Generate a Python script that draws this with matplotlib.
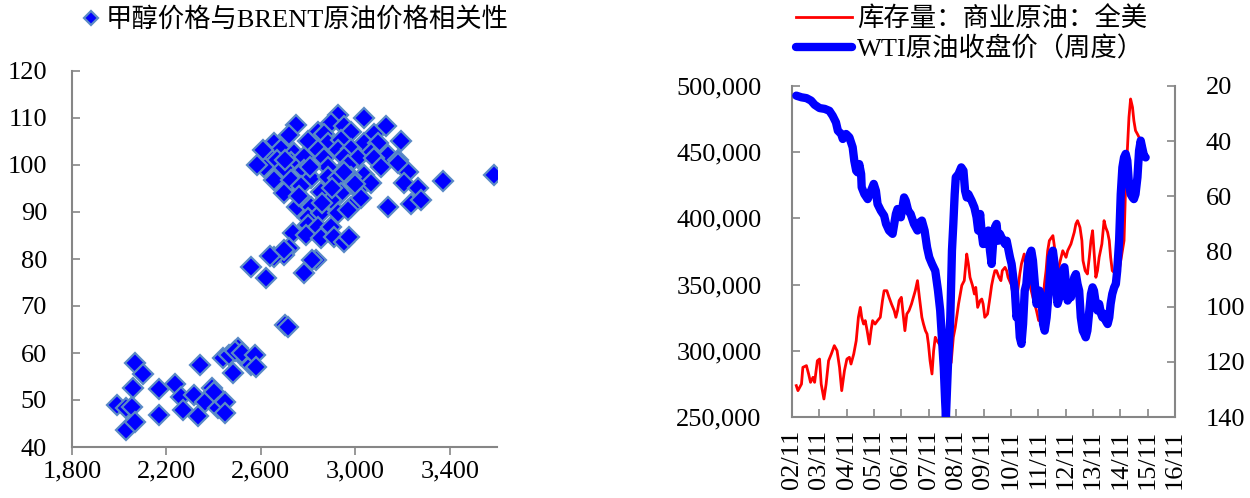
import matplotlib
matplotlib.use('Agg')
import matplotlib.pyplot as plt
from matplotlib.ticker import FuncFormatter

FONT = ['Liberation Serif', 'Noto Sans CJK SC']
plt.rcParams['font.family'] = FONT
plt.rcParams['font.size'] = 19
plt.rcParams['axes.unicode_minus'] = False

# ---- scatter: methanol price (x) vs Brent crude price (y) ----
methanol = [1990, 2030, 2053, 2030, 2065, 2057, 2065, 2100, 2170, 2170,
            2235, 2260, 2272, 2315, 2335, 2340, 2365, 2395, 2402, 2418,
            2448, 2448, 2440, 2465, 2480, 2503, 2515, 2490, 2520, 2560,
            2575, 2580, 2700, 2715,
            2925, 3038, 2897, 2748, 3130, 2953, 2840, 2720, 2868, 2982,
            3081, 3194, 2656, 2798, 2883, 2939, 3038, 2621, 2684, 2741,
            2840, 2925, 2982, 3095, 3067, 3137, 2670, 2727, 2784, 2868,
            2953, 3010, 3081, 3180, 2614, 2699, 2784, 2883, 2968, 3109,
            3222, 3180, 2656, 2727, 2812, 2883, 2925, 3038, 2982, 3208,
            3265, 3371, 3586, 2699, 2769, 2854, 2939, 3010, 3067, 2755,
            2812, 2897, 2982, 3024, 3137, 3236, 3279, 2798, 2854, 2925,
            2968, 2798, 2840, 2897, 2734, 2791, 2854, 2911, 2953, 2975,
            2720, 2699, 2656, 2833, 2557, 2784, 2621, 2640, 2696, 2817,
            2607, 2585, 2770, 2900, 2810, 2760, 2950, 2700, 2860, 3000]
brent = [48.9, 48.2, 48.6, 43.6, 45.3, 52.6, 57.8, 55.6, 52.4, 46.8,
         53.5, 50.7, 47.8, 51.1, 46.5, 57.4, 49.6, 52.6, 51.8, 48.2,
         49.6, 47.2, 58.9, 59.6, 55.7, 61.0, 59.6, 60.5, 60.0, 57.4,
         59.6, 57.0, 66.0, 65.6,
         110.6, 109.9, 108.9, 108.5, 108.2, 108.2, 107.1, 106.4, 106.7, 107.1,
         106.7, 105.0, 104.6, 105.0, 104.6, 105.3, 104.6, 102.8, 103.5, 102.5,
         103.2, 103.2, 103.5, 104.6, 102.5, 102.1, 101.1, 100.7, 101.8, 101.4,
         101.8, 101.4, 101.4, 101.1, 99.6, 99.3, 98.9, 99.6, 100.0, 99.6,
         98.6, 100.4, 96.8, 96.8, 97.2, 97.5, 97.2, 97.9, 97.5, 96.1,
         95.0, 96.5, 97.9, 94.0, 92.9, 94.3, 94.0, 94.7, 96.1, 91.1,
         91.1, 92.6, 91.1, 92.9, 91.1, 91.8, 92.6, 88.7, 89.7, 89.7,
         90.4, 87.2, 86.9, 86.9, 85.5, 85.1, 84.4, 84.7, 83.7, 84.7,
         82.3, 80.9, 80.5, 79.8, 78.4, 77.0, 75.9, 80.6, 81.9, 79.8,
         103.2, 100.0, 95.5, 95.0, 99.5, 93.5, 98.5, 101.0, 92.0, 96.0]

# ---- US commercial crude inventory (left axis) ----
inv_time = [2002.99, 2003.05, 2003.18, 2003.23, 2003.36, 2003.44, 2003.51, 2003.60, 2003.66, 2003.76,
            2003.84, 2003.90, 2004.00, 2004.08, 2004.17, 2004.27, 2004.38, 2004.48, 2004.57, 2004.65,
            2004.75, 2004.84, 2004.93, 2004.99, 2005.09, 2005.18, 2005.26, 2005.33, 2005.38, 2005.45,
            2005.51, 2005.58, 2005.66, 2005.72, 2005.78, 2005.87, 2005.96, 2006.06, 2006.14, 2006.20,
            2006.30, 2006.38, 2006.47, 2006.57, 2006.63, 2006.69, 2006.75, 2006.83, 2006.91, 2006.96,
            2007.03, 2007.11, 2007.20, 2007.27, 2007.34, 2007.42, 2007.49, 2007.58, 2007.64, 2007.71,
            2007.77, 2007.82, 2007.88, 2007.95, 2008.01, 2008.07, 2008.13, 2008.29, 2008.50, 2008.65,
            2008.73, 2008.80, 2008.92, 2009.04, 2009.13, 2009.22, 2009.28, 2009.34, 2009.43, 2009.50,
            2009.55, 2009.62, 2009.71, 2009.77, 2009.82, 2009.88, 2009.98, 2010.07, 2010.13, 2010.19,
            2010.25, 2010.31, 2010.40, 2010.47, 2010.52, 2010.62, 2010.68, 2010.73, 2010.86, 2010.92,
            2010.98, 2011.10, 2011.16, 2011.22, 2011.32, 2011.40, 2011.53, 2011.64, 2011.77, 2011.85,
            2011.92, 2012.01, 2012.06, 2012.12, 2012.18, 2012.24, 2012.37, 2012.43, 2012.48, 2012.54,
            2012.61, 2012.67, 2012.73, 2012.79, 2012.85, 2012.91, 2013.03, 2013.15, 2013.21, 2013.27,
            2013.36, 2013.43, 2013.47, 2013.55, 2013.63, 2013.70, 2013.76, 2013.82, 2013.87, 2013.94,
            2014.00, 2014.06, 2014.16, 2014.24, 2014.30, 2014.37, 2014.43, 2014.48, 2014.54, 2014.67,
            2014.79, 2014.91, 2014.97, 2015.03, 2015.09, 2015.15, 2015.21, 2015.28, 2015.33, 2015.39,
            2015.46, 2015.52, 2015.58, 2015.70]
inv_value = [273700, 269900, 274900, 287500, 288800, 282500, 276200, 280000, 276200, 292500,
             293800, 274900, 263600, 274900, 292500, 297600, 303900, 300100, 287500, 269900,
             285000, 293800, 295100, 290000, 297600, 307600, 325300, 332800, 325300, 320200,
             322800, 315200, 305100, 315200, 322800, 320200, 322800, 325300, 337900, 345400,
             345400, 340400, 335300, 330300, 325300, 330300, 337900, 340400, 325300, 315200,
             327800, 330300, 335300, 340400, 345400, 353000, 340400, 325300, 320200, 315200,
             312700, 305100, 292500, 282500, 300100, 310200, 307600, 303000, 296000, 291000,
             310200, 317700, 335300, 349400, 353000, 373100, 365600, 355500, 349400, 342900,
             347900, 332800, 337900, 339100, 335300, 325300, 327800, 340400, 349400, 355500,
             360500, 360500, 355500, 353000, 360500, 363000, 360500, 355500, 349400, 340400,
             330300, 347900, 358000, 365600, 373100, 360500, 349400, 340400, 330300, 322800,
             325300, 335300, 350400, 360500, 375600, 383200, 387000, 378100, 365600, 358000,
             365600, 370600, 375600, 373100, 370600, 375600, 380700, 389500, 395800, 398300,
             393200, 383200, 368100, 360500, 358000, 370600, 383200, 390700, 375600, 355500,
             360500, 370600, 380700, 398300, 393200, 389500, 383200, 370600, 360500, 358000,
             360500, 375600, 383200, 426000, 451200, 476300, 490200, 483900, 473800, 466300,
             463700, 461200, 458700, 455000]

# ---- WTI weekly close (right axis, inverted) ----
wti_time = [2002.99, 2003.18, 2003.36, 2003.53, 2003.66, 2003.84, 2004.03, 2004.20, 2004.32, 2004.44,
            2004.51, 2004.63, 2004.69, 2004.81, 2004.93, 2005.05, 2005.11, 2005.18, 2005.23, 2005.29,
            2005.36, 2005.38, 2005.48, 2005.60, 2005.72, 2005.82, 2005.90, 2005.96, 2006.08, 2006.20,
            2006.27, 2006.38, 2006.51, 2006.57, 2006.63, 2006.69, 2006.81, 2006.87, 2006.93, 2006.99,
            2007.08, 2007.17, 2007.29, 2007.42, 2007.49, 2007.58, 2007.68, 2007.77, 2007.85, 2007.95,
            2008.07, 2008.17, 2008.25, 2008.31, 2008.38, 2008.43, 2008.46, 2008.53, 2008.62, 2008.68,
            2008.73, 2008.78, 2008.82, 2008.92, 2009.02, 2009.10, 2009.16, 2009.22, 2009.28, 2009.40,
            2009.50, 2009.58, 2009.64, 2009.71, 2009.77, 2009.82, 2009.88, 2009.95, 2010.01, 2010.07,
            2010.13, 2010.19, 2010.25, 2010.31, 2010.37, 2010.43, 2010.49, 2010.62, 2010.68, 2010.80,
            2010.86, 2010.92, 2010.98, 2011.04, 2011.10, 2011.16, 2011.22, 2011.28, 2011.34, 2011.40,
            2011.47, 2011.53, 2011.58, 2011.64, 2011.71, 2011.77, 2011.83, 2011.88, 2011.95, 2012.01,
            2012.07, 2012.14, 2012.24, 2012.30, 2012.37, 2012.43, 2012.48, 2012.54, 2012.61, 2012.67,
            2012.73, 2012.79, 2012.85, 2012.91, 2012.97, 2013.03, 2013.09, 2013.15, 2013.21, 2013.27,
            2013.33, 2013.39, 2013.46, 2013.52, 2013.57, 2013.63, 2013.70, 2013.76, 2013.82, 2013.87,
            2013.94, 2014.00, 2014.06, 2014.13, 2014.18, 2014.24, 2014.30, 2014.37, 2014.43, 2014.48,
            2014.54, 2014.61, 2014.67, 2014.72, 2014.79, 2014.85, 2014.91, 2014.97, 2015.03, 2015.09,
            2015.15, 2015.21, 2015.28, 2015.33, 2015.39, 2015.46, 2015.52, 2015.58, 2015.63, 2015.70,
            2015.76]
wti_value = [23.5, 24.1, 24.4, 25.3, 26.8, 28.0, 28.3, 29.0, 30.8, 33.2,
             36.2, 37.4, 39.2, 37.4, 38.6, 42.2, 47.1, 50.7, 51.3, 48.3,
             51.9, 56.7, 59.2, 61.0, 58.0, 55.5, 58.0, 62.8, 65.2, 67.0,
             70.0, 72.4, 73.6, 70.0, 66.4, 64.6, 67.6, 64.0, 60.4, 61.6,
             65.2, 66.4, 70.0, 72.4, 69.5, 68.8, 72.4, 78.5, 82.1, 84.5,
             87.0, 94.2, 101.4, 111.1, 122.0, 134.1, 140.0, 122.0, 103.9, 79.7,
             70.0, 59.2, 53.1, 51.9, 49.5, 50.7, 58.0, 60.4, 59.2, 61.6,
             64.0, 67.6, 72.4, 66.4, 73.6, 77.3, 73.6, 77.3, 72.4, 79.7,
             84.5, 76.1, 71.2, 70.0, 76.1, 73.6, 74.9, 77.3, 76.1, 82.1,
             84.5, 89.4, 94.2, 103.9, 101.4, 111.1, 113.5, 106.3, 94.2, 91.8,
             83.3, 80.9, 79.7, 83.3, 91.8, 99.0, 96.6, 94.2, 96.6, 106.3,
             108.7, 103.9, 91.8, 82.1, 79.7, 84.5, 91.8, 99.0, 96.6, 89.4,
             87.0, 85.7, 91.8, 97.8, 94.2, 96.6, 93.0, 89.4, 88.2, 91.8,
             94.2, 103.9, 108.7, 109.9, 111.1, 108.7, 101.4, 95.4, 93.0, 94.2,
             99.0, 101.4, 99.0, 102.6, 103.9, 102.6, 105.1, 106.3, 103.9, 99.0,
             95.4, 93.0, 91.8, 87.0, 76.1, 59.2, 49.5, 45.9, 44.6, 47.1,
             55.5, 59.2, 60.4, 61.0, 59.2, 53.1, 43.4, 39.8, 42.2, 45.3,
             45.9]

year_ticks = [2002.833, 2003.833, 2004.833, 2005.833, 2006.833, 2007.833, 2008.833, 2009.833,
              2010.833, 2011.833, 2012.833, 2013.833, 2014.833, 2015.833, 2016.833]
year_labels = ['02/11', '03/11', '04/11', '05/11', '06/11', '07/11', '08/11', '09/11',
               '10/11', '11/11', '12/11', '13/11', '14/11', '15/11', '16/11']

SPINE = '#868686'
W, H = 1250, 498
fig = plt.figure(figsize=(W / 100, H / 100), dpi=100)
thousands = FuncFormatter(lambda v, p: f'{v:,.0f}')

# ---------------- left panel ----------------
ax1 = fig.add_axes([72 / W, 51 / H, 425 / W, 376 / H])
ax1.plot(methanol, brent, linestyle='none', marker='D', ms=10.2,
         mfc='#0000FF', mec='#5A8AC6', mew=1.6,
         label='甲醇价格与BRENT原油价格相关性')
ax1.set_xlim(1800, 3600)
ax1.set_ylim(40, 120)
ax1.set_xticks([1800, 2200, 2600, 3000, 3400])
ax1.set_yticks([40, 50, 60, 70, 80, 90, 100, 110, 120])
ax1.xaxis.set_major_formatter(thousands)
for s in ('top', 'right'):
    ax1.spines[s].set_visible(False)
for s in ('left', 'bottom'):
    ax1.spines[s].set_color(SPINE)
    ax1.spines[s].set_linewidth(1.5)
ax1.tick_params(axis='y', direction='in', length=6, width=1.2, color=SPINE, pad=18)
ax1.tick_params(axis='x', direction='out', length=6, width=1.2, color=SPINE, pad=4)
ax1.legend(loc='upper left', bbox_to_anchor=(79 / W, 1 - 6 / H), bbox_transform=fig.transFigure,
           frameon=False, borderaxespad=0.0, borderpad=0.05, handlelength=0.8,
           handletextpad=0.15, markerscale=0.72)

# ---------------- right panel ----------------
ax2 = fig.add_axes([792 / W, 81 / H, 383 / W, 331 / H])
l_inv, = ax2.plot(inv_time, inv_value, color='#FF0000', lw=2.0,
                  label='库存量：商业原油：全美')
ax2.set_xlim(2002.833, 2016.833)
ax2.set_ylim(250000, 500000)
ax2.set_yticks([250000, 300000, 350000, 400000, 450000, 500000])
ax2.yaxis.set_major_formatter(thousands)
ax2.set_xticks(year_ticks)
ax2.set_xticklabels(year_labels, rotation=90)

ax3 = ax2.twinx()
l_wti, = ax3.plot(wti_time, wti_value, color='#0000FF', lw=6.0,
                  solid_capstyle='round', solid_joinstyle='round',
                  label='WTI原油收盘价（周度）')
ax3.set_ylim(140, 20)
ax3.set_yticks([20, 40, 60, 80, 100, 120, 140])

for a in (ax2, ax3):
    a.spines['top'].set_visible(False)
    for s in ('left', 'right', 'bottom'):
        a.spines[s].set_color(SPINE)
        a.spines[s].set_linewidth(1.5)
ax2.spines['right'].set_visible(False)
ax3.spines['left'].set_visible(False)
ax3.spines['bottom'].set_visible(False)
ax2.tick_params(axis='y', direction='in', length=6, width=1.2, color=SPINE, pad=22)
ax2.tick_params(axis='x', direction='in', length=6, width=1.2, color=SPINE, pad=9)
ax3.tick_params(axis='y', direction='in', length=6, width=1.2, color=SPINE, pad=22)

fig.legend(handles=[l_inv, l_wti], loc='upper left', bbox_to_anchor=(795 / W, 1 - 5 / H),
           frameon=False, borderaxespad=0.0, borderpad=0.05, handlelength=2.1,
           handletextpad=0.2, labelspacing=0.18)

fig.savefig('out.png', dpi=100)
